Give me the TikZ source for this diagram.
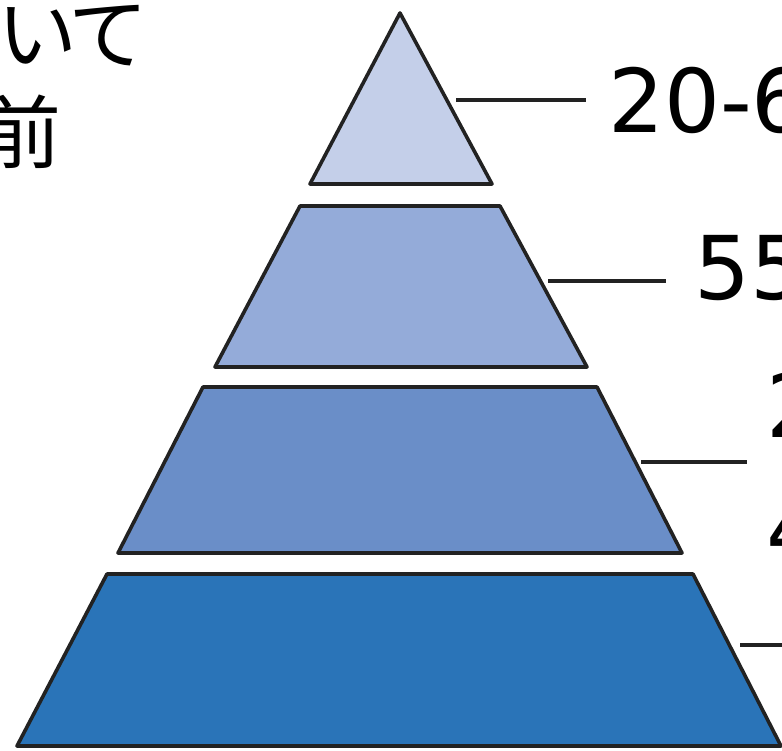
\documentclass[tikz,border=0pt]{standalone}
\usepackage{fontspec}
\setmainfont{DejaVu Sans}
\newfontfamily\jpfont[RawFeature=+palt]{Noto Sans CJK JP}
\definecolor{tierA}{HTML}{C4CFE9}
\definecolor{tierB}{HTML}{94ABD9}
\definecolor{tierC}{HTML}{6A8EC8}
\definecolor{tierD}{HTML}{2A74B8}
\definecolor{edge}{HTML}{222222}
\tikzset{
  tier/.style={draw=edge, line width=3.6pt, line join=round},
  leader/.style={draw=edge, line width=4.5pt},
  numlabel/.style={anchor=base west, inner sep=0pt, font=\fontsize{88}{124}\selectfont},
  jplabel/.style={anchor=base east, inner sep=0pt, font=\jpfont\fontsize{80}{96}\selectfont}
}
\begin{document}
\begin{tikzpicture}[x=1pt,y=-1pt]
\useasboundingbox (0,0) rectangle (782,751);
\fill[white] (0,0) rectangle (782,751);
\clip (0,0) rectangle (782,751);
% pyramid tiers
\draw[tier, fill=tierA] (400,13) -- (492,184) -- (310,184) -- cycle;
\draw[tier, fill=tierB] (300,206) -- (500,206) -- (587,367) -- (215,367) -- cycle;
\draw[tier, fill=tierC] (203,387) -- (597,387) -- (682,553) -- (118,553) -- cycle;
\draw[tier, fill=tierD] (107,574) -- (693,574) -- (781,746) -- (17,746) -- cycle;
% leader end points
\coordinate (l1a) at (456,100);
\coordinate (l1b) at (586,100);
\coordinate (l2a) at (548,281);
\coordinate (l2b) at (666,281);
\coordinate (l3a) at (641,462);
\coordinate (l3b) at (747,462);
\coordinate (l4a) at (740,645);
\coordinate (l4b) at (790,645);
\draw[leader] (l1a) -- (l1b);
\draw[leader] (l2a) -- (l2b);
\draw[leader] (l3a) -- (l3b);
\draw[leader] (l4a) -- (l4b);
% labels
\node[numlabel] (t1) at (608,133) {20-6};
\node[numlabel] (t2) at (694,300) {55};
\node[numlabel] (t3a) at (766,437) {2};
\node[numlabel] (t3b) at (766,561) {4};
\node[jplabel] (j1) at (146,64) {において};
\node[jplabel] (j2) at (62,163) {以前};
\end{tikzpicture}
\end{document}
